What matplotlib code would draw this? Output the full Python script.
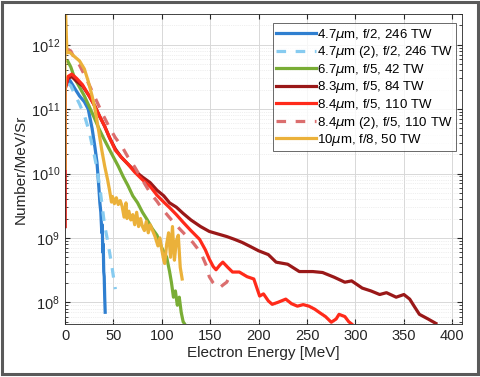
import matplotlib
matplotlib.use("Agg")
import matplotlib.pyplot as plt
import numpy as np
from matplotlib.patches import Rectangle

plt.rcParams['font.family'] = ['Liberation Sans', 'DejaVu Sans']
plt.rcParams['mathtext.fontset'] = 'dejavusans'

labels = [r"4.7$\mu$m, f/2, 246 TW", r"4.7$\mu$m (2), f/2, 246 TW",
          r"6.7$\mu$m, f/5, 42 TW", r"8.3$\mu$m, f/5, 84 TW",
          r"8.4$\mu$m, f/5, 110 TW", r"8.4$\mu$m (2), f/5, 110 TW",
          r"10$\mu$m, f/8, 50 TW"]
colors = ["#2F7FD0", "#86CBF0", "#79AD35", "#9A1818", "#FF2A1A", "#DB6E6E", "#EBB13A"]
styles = ["-", (0, (3, 3)), "-", "-", "-", (0, (3, 3)), "-"]

# 4.7 um f/2
E1 = [2, 5, 10, 15, 20, 24, 28, 31, 33, 35, 36, 37, 38, 38.5, 39, 39.5, 40, 40.5, 41, 41.5]
N1 = [2.5e11, 2.8e11, 2.1e11, 1.6e11, 1.3e11, 1e11, 5e10, 2.5e10, 1.5e10, 6e9, 3.5e9, 2.5e9,
      1.2e9, 1.6e9, 6e8, 8e8, 3e8, 2.5e8, 1.2e8, 7e7]
# 4.7 um (2)
E2 = [3, 6, 10, 15, 20, 25, 30, 33, 36, 38, 40, 42, 44, 46, 48, 50, 52]
N2 = [2.5e11, 2.3e11, 1.7e11, 1.2e11, 8e10, 4.5e10, 2e10, 1.2e10, 6e9, 3.5e9, 2e9, 1.3e9,
      9e8, 6e8, 4e8, 2.5e8, 1.6e8]
# 6.7 um
E3 = [3, 6, 10, 15, 20, 25, 30, 35, 40, 45, 50, 55, 60, 65, 70, 75, 80, 85, 90, 95, 100, 105,
      108, 110, 112, 114, 116, 118, 120, 122, 124]
N3 = [5.5e11, 4.5e11, 3e11, 2.2e11, 1.6e11, 1.1e11, 7.5e10, 5e10, 3.5e10, 2.5e10, 1.8e10, 1.3e10,
      9e9, 6.5e9, 4.5e9, 3.5e9, 2.5e9, 1.9e9, 1.4e9, 1.1e9, 7e8, 5e8, 3e8, 2e8, 1.2e8, 1.5e8,
      9e7, 1.2e8, 7e7, 5e7, 4.5e7]
# 8.3 um
E4 = [0, 0, 3, 7, 12, 18, 25, 31, 36, 41, 46, 52, 58, 65, 72, 80, 88, 95, 102, 108, 115, 122,
      130, 140, 149, 158, 167, 175, 183, 191, 200, 210, 218, 230, 242, 256, 266, 278, 289, 296,
      307, 316, 325, 332, 342, 350, 356, 361, 366, 375, 383]
N4 = [1.5e9, 2e11, 3e11, 3.2e11, 2.7e11, 2.3e11, 1.6e11, 1.1e11, 7.6e10, 5.4e10, 3.6e10, 2.4e10,
      1.8e10, 1.4e10, 1.1e10, 8.8e9, 7.2e9, 5.5e9, 4.5e9, 3.5e9, 3.0e9, 2.4e9, 1.9e9, 1.5e9,
      1.26e9, 1.15e9, 1.05e9, 9.5e8, 8.5e8, 7.4e8, 6.3e8, 5.5e8, 4.2e8, 3.9e8, 3.0e8, 3.0e8,
      2.9e8, 2.45e8, 2.05e8, 2.15e8, 1.66e8, 1.5e8, 1.32e8, 1.41e8, 1.2e8, 1.32e8, 1.12e8,
      8.5e7, 6.5e7, 5.5e7, 4.7e7]
# 8.4 um
E5 = [0, 0, 3, 7, 12, 18, 25, 31, 36, 41, 46, 52, 58, 65, 72, 80, 88, 95, 102, 108, 115, 122,
      130, 139, 145, 149, 153, 156, 160, 163, 168, 173, 180, 188, 195, 201, 205, 210, 214, 220,
      228, 234, 240, 246, 252, 258, 263, 269, 275, 280, 283, 289, 293, 296]
N5 = [1.5e9, 2e11, 3.2e11, 3.5e11, 3.0e11, 2.4e11, 1.6e11, 1.1e11, 7.6e10, 5.4e10, 3.6e10,
      2.3e10, 1.8e10, 1.4e10, 1.05e10, 8e9, 6.3e9, 4.6e9, 3.6e9, 2.95e9, 2.3e9, 1.75e9, 1.3e9,
      9.5e8, 6.5e8, 4.7e8, 3.6e8, 3.2e8, 3.8e8, 4.2e8, 3.5e8, 2.95e8, 2.95e8, 2.5e8, 2.3e8,
      1.25e8, 1.35e8, 1.05e8, 9.3e7, 1.0e8, 1.12e8, 9.5e7, 8.7e7, 9.2e7, 8.7e7, 7.8e7, 6.9e7,
      6.0e7, 4.9e7, 5.5e7, 6.5e7, 6.0e7, 5.0e7, 4.6e7]
# 8.4 um (2)
E6 = [3, 6, 10, 15, 21, 28, 33, 38, 45, 52, 59, 65, 72, 80, 88, 95, 101, 110, 119, 126, 132,
      138, 142, 146, 149, 153, 156, 160, 164, 167, 170]
N6 = [8.5e11, 8e11, 6e11, 4.8e11, 3.2e11, 1.9e11, 1.3e11, 8.9e10, 5.5e10, 3.6e10, 2.6e10,
      1.8e10, 1.26e10, 7.9e9, 5e9, 3.7e9, 2.75e9, 1.9e9, 1.35e9, 1.05e9, 8.5e8, 6.5e8, 5.1e8,
      3.7e8, 2.5e8, 2.0e8, 1.78e8, 1.7e8, 1.9e8, 2.05e8, 2.5e8]
# 10 um
E7 = [0, 0, 2, 5, 10, 15, 20, 24, 28, 31, 35, 38, 41, 44, 46, 48, 49, 51, 53, 55, 57, 59, 61,
      63, 64, 66, 68, 70, 72, 74, 76, 78, 80, 82, 84, 86, 88, 90, 93, 96, 98, 100, 102, 103,
      105, 107, 109, 111, 113, 115, 117, 119, 121]
N7 = [1.2e10, 6e12, 7.5e11, 7.6e11, 6.5e11, 5.6e11, 4.2e11, 2.7e11, 1.6e11, 1.0e11, 4.4e10,
      2.3e10, 1.3e10, 8e9, 5.5e9, 3.6e9, 4.4e9, 3.4e9, 4.2e9, 3.3e9, 3.8e9, 3.1e9, 2.1e9,
      3.5e9, 2.0e9, 2.6e9, 1.9e9, 2.3e9, 1.6e9, 2.5e9, 1.5e9, 2.0e9, 1.5e9, 1.3e9, 1.8e9,
      1.2e9, 1.6e9, 1.35e9, 1.05e9, 7.5e8, 1.0e9, 6.5e8, 4.5e8, 4.0e8, 8e8, 1.2e9, 5e8,
      1.5e9, 4.5e8, 9e8, 1.1e9, 3.5e8, 2.3e8]

series = [(E1, N1), (E2, N2), (E3, N3), (E4, N4), (E5, N5), (E6, N6), (E7, N7)]

fig = plt.figure(figsize=(4.8, 3.77), dpi=100)
ax = fig.add_axes([65/480, 1 - 324/377, (462-65)/480, (324-14)/377])

for (E, N), c, ls, lab in zip(series, colors, styles, labels):
    ax.plot(E, N, color=c, linestyle=ls, lw=2.3, label=lab, solid_joinstyle='round')

ax.set_yscale('log')
ax.set_xlim(0, 410)
ax.set_ylim(4.6e7, 3.0e12)
ax.set_xticks([0, 50, 100, 150, 200, 250, 300, 350, 400])
ax.grid(True, which='major', color='#d8d8d8', lw=0.7)
ax.grid(True, which='minor', axis='y', color='#e0e0e0', lw=0.5, linestyle=':')
ax.set_axisbelow(True)
ax.tick_params(which='both', direction='in', top=True, right=True, labelsize=10.5,
               colors='#262626', labelcolor='#262626')
ax.tick_params(which='major', length=3.5)
ax.tick_params(which='minor', length=2)
for s in ax.spines.values():
    s.set_color('#262626')
    s.set_linewidth(0.6)
ax.set_xlabel('Electron Energy [MeV]', fontsize=11, color='#262626', labelpad=2)
ax.set_ylabel('Number/MeV/Sr', fontsize=11, color='#262626', labelpad=2)

leg = ax.legend(loc='upper right', bbox_to_anchor=(0.985, 0.97), fontsize=9.5, frameon=True,
                fancybox=False, edgecolor='#262626', handlelength=3.0, handletextpad=0.1,
                labelspacing=0.12, borderpad=0.25, borderaxespad=0)
leg.get_frame().set_linewidth(0.6)

fig.patches.append(Rectangle((1.5/480, 3/377), 476/480, 372/377, transform=fig.transFigure,
                             fill=False, edgecolor='#5a5a5a', lw=2.2))

fig.savefig('out.png', dpi=100)
